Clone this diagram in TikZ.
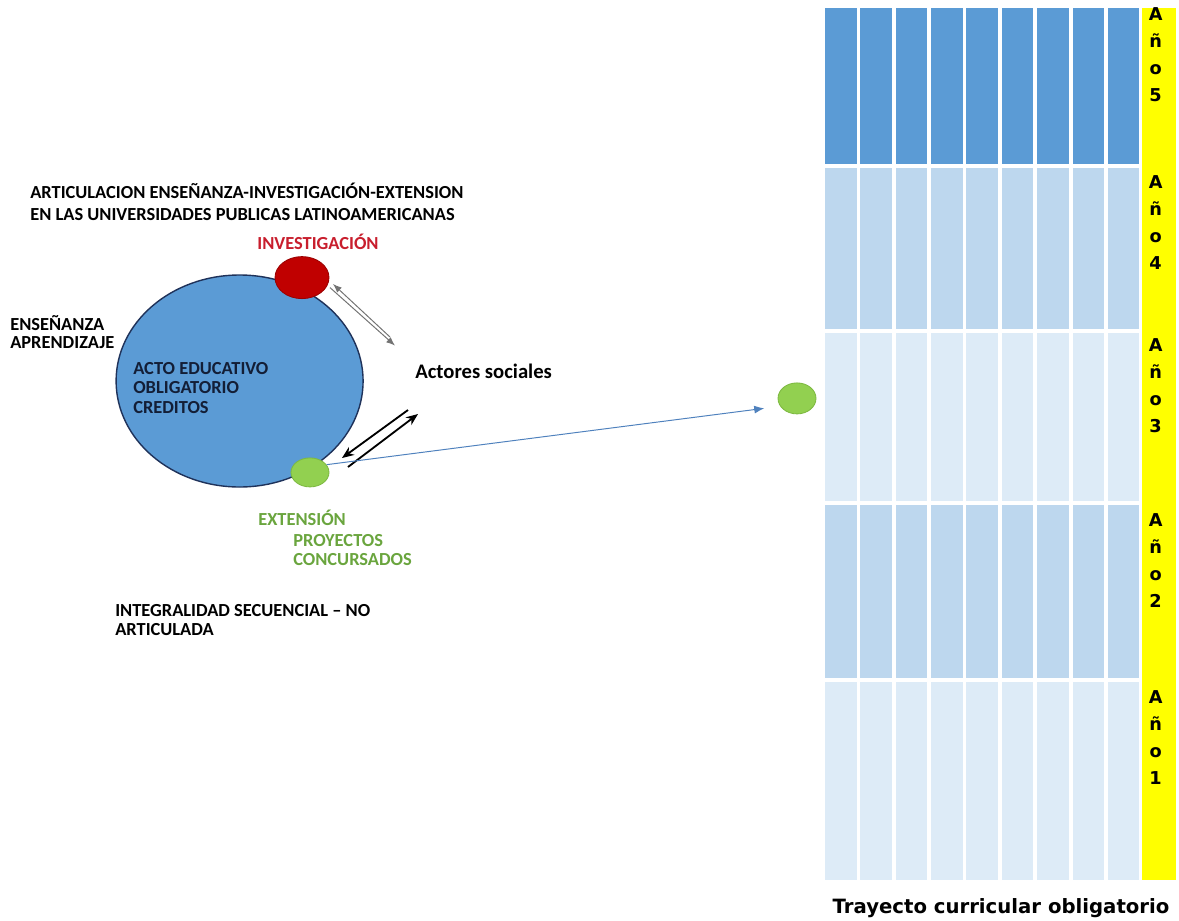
\documentclass[tikz,border=0pt]{standalone}
\usepackage{fontspec}
\setmainfont{Carlito}
\newfontfamily\verdfont{DejaVu Sans}
\usetikzlibrary{shapes.geometric,arrows.meta}

\definecolor{blauKreis}{RGB}{91,155,213}
\definecolor{randBlau}{RGB}{31,50,90}
\definecolor{rotKreis}{RGB}{192,0,0}
\definecolor{rotText}{RGB}{200,30,45}
\definecolor{gruenKreis}{RGB}{146,208,80}
\definecolor{gruenRand}{RGB}{125,185,65}
\definecolor{gruenText}{RGB}{106,165,62}
\definecolor{linieBlau}{RGB}{79,129,189}
\definecolor{linieGrau}{RGB}{115,115,115}
\definecolor{zeileA}{RGB}{91,155,213}
\definecolor{zeileB}{RGB}{189,215,238}
\definecolor{zeileC}{RGB}{221,235,247}
\definecolor{gelb}{RGB}{255,255,0}

\begin{document}
\begin{tikzpicture}[
    >=latex,
    every node/.style={font=\bfseries\fontsize{13.1}{14.2}\selectfont, inner sep=0pt},
    txt/.style={align=left, anchor=west},
    kreis/.style={ellipse, line width=0.6pt},
    gruen/.style={text=gruenText},
    anio/.style={
        align=center, anchor=north,
        font=\verdfont\bfseries\fontsize{12.6}{19.2}\selectfont
    },
    grauPfeil/.style={
        draw=linieGrau, line width=0.7pt,
        -{Latex[length=2.2mm, width=1.7mm]}
    },
    schwPfeil/.style={
        draw=black, line width=1.3pt,
        -{Stealth[length=3mm, width=2.4mm]}
    },
    blauPfeil/.style={
        draw=linieBlau, line width=0.7pt,
        -{Latex[length=2.5mm, width=2mm]}
    }
]
\useasboundingbox (0,0) rectangle (294.75mm,-230mm);

% ----------------------------------------------------------
% Rechts: Trayecto curricular, fuenf Jahre mit je 9 Spalten
% ----------------------------------------------------------
\foreach \ytop/\ybot/\farbe in {-2/-41/zeileA, -42/-82.25/zeileB,
        -83.25/-125.25/zeileC, -126.25/-169.5/zeileB, -170.5/-220/zeileC} {
    \foreach \i in {0,...,8} {
        \fill[\farbe] ({(206.25+8.84*\i)*1mm}, {\ytop*1mm})
            rectangle ({(214.125+8.84*\i)*1mm}, {\ybot*1mm});
    }
}
\fill[gelb] (285.5mm, -2mm) rectangle (294mm, -220mm);

\node[anio] (j5) at (288.9mm, -1.9mm)  {A\\ñ\\o\\5};
\node[anio] (j4) at (288.9mm, -43.9mm) {A\\ñ\\o\\4};
\node[anio] (j3) at (288.9mm, -84.6mm) {A\\ñ\\o\\3};
\node[anio] (j2) at (288.9mm, -128.4mm) {A\\ñ\\o\\2};
\node[anio] (j1) at (288.9mm, -172.6mm) {A\\ñ\\o\\1};

\node[font=\verdfont\bfseries\fontsize{14}{16}\selectfont] (trayecto)
    at (250.25mm, -227mm) {Trayecto curricular obligatorio};

% ----------------------------------------------------------
% Links: Kreis mit Investigacion und Extension
% ----------------------------------------------------------
\node[txt, font=\bfseries\fontsize{13.1}{15.6}\selectfont] (titel) at (7.5mm, -50.5mm)
    {ARTICULACION ENSEÑANZA-INVESTIGACIÓN-EXTENSION\\EN LAS UNIVERSIDADES PUBLICAS LATINOAMERICANAS};

\node[kreis, draw=randBlau, fill=blauKreis, line width=1pt,
      minimum width=61.75mm, minimum height=53mm]
    (acto) at (59.9mm, -95.25mm) {};
\node[kreis, draw=rotKreis!80!black, fill=rotKreis, minimum width=13.5mm, minimum height=10.5mm]
    (inv) at (75.5mm, -69.4mm) {};
\node[kreis, draw=gruenRand, fill=gruenKreis, minimum width=9.5mm, minimum height=7.25mm]
    (ext) at (77.5mm, -118.1mm) {};
\node[kreis, draw=gruenRand, fill=gruenKreis, minimum width=9.5mm, minimum height=7.75mm]
    (extR) at (199.25mm, -99.6mm) {};

\node[text=rotText] (invlbl) at (79.5mm, -60.5mm) {INVESTIGACIÓN};
\node[txt, font=\bfseries\fontsize{13.1}{12.8}\selectfont] (ens) at (2.5mm, -83mm)
    {ENSEÑANZA\\APRENDIZAJE};
\node[txt, text=randBlau!60!black] (actolbl) at (33.25mm, -97mm)
    {ACTO EDUCATIVO\\OBLIGATORIO\\CREDITOS};
\node[txt, font=\bfseries\fontsize{14.7}{16}\selectfont] (actores) at (103.75mm, -92.75mm)
    {Actores sociales};

\node[txt, gruen] (extlbl) at (64.5mm, -129.5mm) {EXTENSIÓN};
\node[txt, gruen, font=\bfseries\fontsize{13.1}{13.5}\selectfont] (proy) at (73.25mm, -137.4mm)
    {PROYECTOS\\CONCURSADOS};
\node[txt] (integ) at (28.75mm, -155mm) {INTEGRALIDAD SECUENCIAL – NO\\ARTICULADA};

% Pfeile zwischen Kreis und Actores sociales
\coordinate (gA) at (97.5mm, -84.25mm);
\coordinate (gAe) at (83.25mm, -71mm);
\coordinate (gB) at (82.5mm, -71.9mm);
\coordinate (gBe) at (98.75mm, -86.4mm);
\coordinate (sC) at (87mm, -116.75mm);
\coordinate (sCe) at (104.5mm, -103.5mm);
\coordinate (sD) at (102mm, -102.5mm);
\coordinate (sDe) at (85.5mm, -114.5mm);

\draw[grauPfeil] (gA) -- (gAe);
\draw[grauPfeil] (gB) -- (gBe);
\draw[schwPfeil] (sC) -- (sCe);
\draw[schwPfeil] (sD) -- (sDe);

% Linie zur Extension im Trayecto
\draw[blauPfeil, shorten >=4mm] (ext.25) -- (extR.205);

\end{tikzpicture}
\end{document}
